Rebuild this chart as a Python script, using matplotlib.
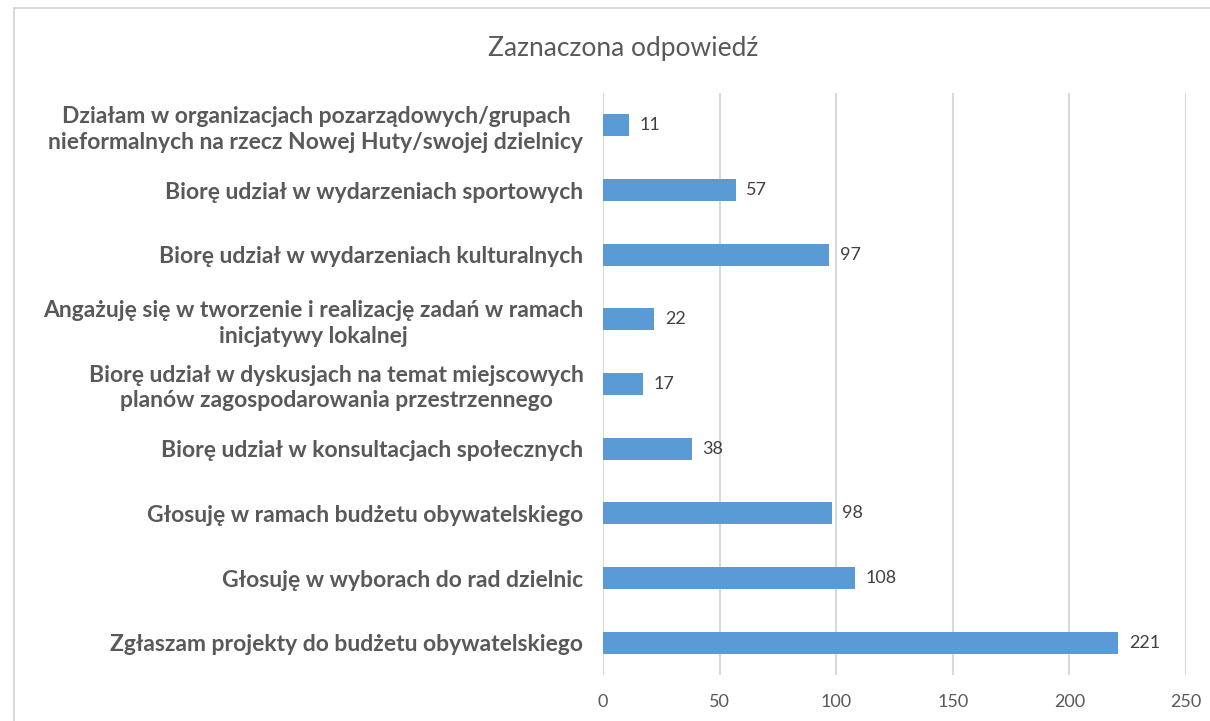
import matplotlib
matplotlib.use('Agg')
import matplotlib.pyplot as plt
from matplotlib.lines import Line2D

# ─── Data (top to bottom) ─────────────────────────────────────────────────────
CATEGORIES = [
    'Działam w organizacjach pozarządowych/grupach\nnieformalnych na rzecz Nowej Huty/swojej dzielnicy',
    'Biorę udział w wydarzeniach sportowych',
    'Biorę udział w wydarzeniach kulturalnych',
    'Angażuję się w tworzenie i realizację zadań w ramach\ninicjatywy lokalnej',
    'Biorę udział w dyskusjach na temat miejscowych\nplanów zagospodarowania przestrzennego',
    'Biorę udział w konsultacjach społecznych',
    'Głosuję w ramach budżetu obywatelskiego',
    'Głosuję w wyborach do rad dzielnic',
    'Zgłaszam projekty do budżetu obywatelskiego',
]
VALUES = [11, 57, 97, 22, 17, 38, 98, 108, 221]
X_TICKS = [0, 50, 100, 150, 200, 250]
TITLE = 'Zaznaczona odpowiedź'

BAR_COLOR = '#5B9BD5'
GRID_COLOR = '#D9D9D9'
TEXT_GRAY = '#595959'

plt.rcParams['font.family'] = ['Lato', 'DejaVu Sans']

fig = plt.figure(figsize=(12.1, 7.21), dpi=100)
ax = fig.add_axes([0.4983, 0.0638, 0.4819, 0.8072])

pos = list(range(len(VALUES)))[::-1]
ax.barh(pos, VALUES, height=0.34, color=BAR_COLOR, zorder=3)
for p, v in zip(pos, VALUES):
    ax.text(v + 4.5, p, str(v), va='center', ha='left', fontsize=13,
            color='#404040')

ax.set_xlim(0, 250)
ax.set_ylim(-0.5, len(VALUES) - 0.5)
ax.set_xticks(X_TICKS)
ax.set_xticklabels([str(t) for t in X_TICKS], fontsize=13, color=TEXT_GRAY)
ax.set_yticks(pos)
ax.set_yticklabels(CATEGORIES, fontsize=16.5, fontweight='bold', color=TEXT_GRAY,
                   multialignment='center', linespacing=1.25)
ax.tick_params(axis='both', length=0)
ax.tick_params(axis='y', pad=14)
ax.tick_params(axis='x', pad=14)
ax.grid(axis='x', color=GRID_COLOR, lw=1.5, zorder=0)
for s in ax.spines.values():
    s.set_visible(False)

fig.text(0.515, 0.933, TITLE, ha='center', va='center', fontsize=19,
         color=TEXT_GRAY)

# chart frame (left and top edges visible)
x0, y0 = 14 / 1210, 1 - 8 / 721
fig.add_artist(Line2D([x0, x0], [0, y0], transform=fig.transFigure,
                      color='#D9D9D9', lw=1.5))
fig.add_artist(Line2D([x0, 1], [y0, y0], transform=fig.transFigure,
                      color='#D9D9D9', lw=1.5))

fig.savefig('out.png', dpi=100)
